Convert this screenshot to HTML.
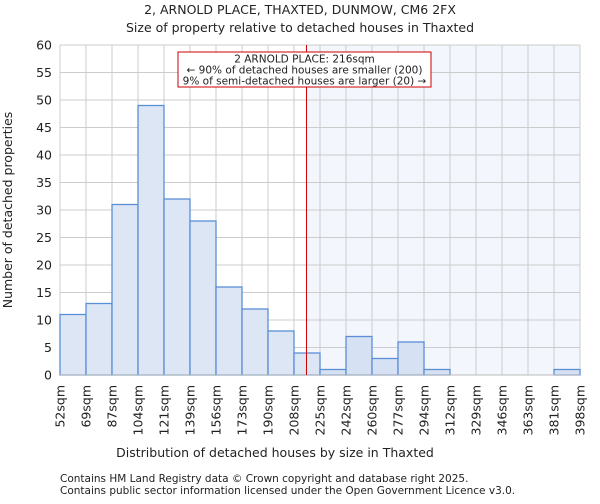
<!DOCTYPE html>
<html><head><meta charset="utf-8"><style>
body{margin:0;background:#fff;font-family:"DejaVu Sans","Liberation Sans",sans-serif}
svg text{font-family:"DejaVu Sans","Liberation Sans",sans-serif;fill:#222}
</style></head><body>
<svg id="chart" width="600" height="500" xmlns="http://www.w3.org/2000/svg">
<rect width="600" height="500" fill="#fff"/>
<text x="300" y="14" text-anchor="middle" font-size="12.5">2, ARNOLD PLACE, THAXTED, DUNMOW, CM6 2FX</text>
<text x="300" y="32" text-anchor="middle" font-size="12.5">Size of property relative to detached houses in Thaxted</text>
<g id="plot"></g>
<text x="275" y="457" text-anchor="middle" font-size="12.5">Distribution of detached houses by size in Thaxted</text>
<text transform="translate(12,210) rotate(-90)" text-anchor="middle" font-size="12.5">Number of detached properties</text>
<text x="60" y="482" font-size="10.5" fill="#444">Contains HM Land Registry data © Crown copyright and database right 2025.</text>
<text x="60" y="494" font-size="10.5" fill="#444">Contains public sector information licensed under the Open Government Licence v3.0.</text>
</svg>
<script>
const categories=["52sqm","69sqm","87sqm","104sqm","121sqm","139sqm","156sqm","173sqm","190sqm","208sqm","225sqm","242sqm","260sqm","277sqm","294sqm","312sqm","329sqm","346sqm","363sqm","381sqm","398sqm"];
const counts=[11,13,31,49,32,28,16,12,8,4,1,7,3,6,1,0,0,0,0,1];
const yTicks=[0,5,10,15,20,25,30,35,40,45,50,55,60];
const edgeMin=52, edgeMax=398, propertySize=216;
const X0=60,X1=580,Y0=375,Y1=45;
const xs=v=>X0+(v-edgeMin)/(edgeMax-edgeMin)*(X1-X0);
const xi=i=>X0+i*(X1-X0)/counts.length;
const ys=v=>Y0-v/60*(Y0-Y1);
const NS="http://www.w3.org/2000/svg";
const g=document.getElementById('plot');
function mk(t,a){const e=document.createElementNS(NS,t);for(const k in a)e.setAttribute(k,a[k]);g.appendChild(e);return e;}
const px=xs(propertySize);
let r=mk('rect',{x:px,y:Y1,width:X1-px,height:Y0-Y1,fill:'#f3f6fd'});


yTicks.forEach(t=>{let l=mk('line',{x1:X0,x2:X1,y1:ys(t),y2:ys(t),stroke:'#cccccc','stroke-width':1});


let tx=mk('text',{x:X0-8,y:ys(t)+4.5,'text-anchor':'end','font-size':12.5});tx.textContent=t;

});
categories.forEach((c,i)=>{const x=xi(i);
let l=mk('line',{x1:x,x2:x,y1:Y1,y2:Y0,stroke:'#cccccc','stroke-width':1});


let tx=mk('text',{transform:`translate(${x+4.5},${Y0+10}) rotate(-90)`,'text-anchor':'end','font-size':12.5});tx.textContent=c;

});
counts.forEach((v,i)=>{if(v<=0)return;const x=xi(i),w=xi(i+1)-x;
let b=mk('rect',{x:x,y:ys(v),width:w,height:Y0-ys(v),fill:i>=10?'#d6e1f3':'#dce6f5',stroke:'#5a8fd6','stroke-width':1.3});

});
let ax=mk('line',{x1:X0,x2:X1,y1:Y0,y2:Y0,stroke:'#bbb'});


let rl=mk('line',{x1:px,x2:px,y1:Y1,y2:Y0,stroke:'#cc0000','stroke-width':1});


let bx=mk('rect',{x:178,y:52,width:253,height:35,fill:'#fff',stroke:'#cc0000','stroke-width':1});


["2 ARNOLD PLACE: 216sqm","← 90% of detached houses are smaller (200)","9% of semi-detached houses are larger (20) →"].forEach((s,k)=>{
let t=mk('text',{x:304.5,y:62.5+k*11,'text-anchor':'middle','font-size':10.5});t.textContent=s;

});
</script>
</body></html>
